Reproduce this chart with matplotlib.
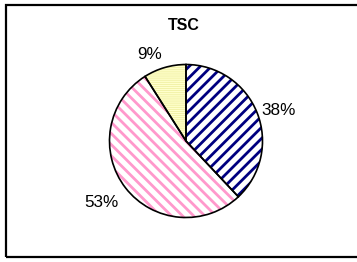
import numpy as np
import matplotlib
matplotlib.use("Agg")
import matplotlib.pyplot as plt
from matplotlib.patches import Rectangle

title = "TSC"
labels = ["38%", "53%", "9%"]
values = [38, 53, 9]
face_colors = ["#FFFFFF", "#FFFFFF", "#FFFFCC"]
hatch_colors = ["#000080", "#FF99CC", "#EDED9A"]
hatches = ["///", "\\\\\\", "--------"]
hatch_lw = [2.0, 2.0, 0.5]
label_dist = [1.28, 1.375, 1.22]
label_dang = [-3.2, -1.7, 6.6]

plt.rcParams['font.family'] = ['Liberation Sans', 'DejaVu Sans']
plt.rcParams['hatch.linewidth'] = 2.0

W, H = 357, 262
fig = plt.figure(figsize=(W / 100, H / 100), dpi=100)

# frame
fig.patches.append(Rectangle((6 / W, 5 / H), 1.0, (257 - 5) / H, transform=fig.transFigure,
                             fill=False, edgecolor="black", linewidth=1.6, figure=fig))

cx, cy, r = 186, 141, 76.5
ax = fig.add_axes([(cx - r) / W, (H - cy - r) / H, 2 * r / W, 2 * r / H])

wedges, _ = ax.pie(values, startangle=90, counterclock=False, radius=1,
                   wedgeprops=dict(linewidth=0))
for w, fc, hc, h, hl in zip(wedges, face_colors, hatch_colors, hatches, hatch_lw):
    w.set_facecolor(fc)
    w.set_edgecolor(hc)
    w.set_hatch(h)
    w.set_linewidth(0)
    if hasattr(w, 'set_hatch_linewidth'):
        w.set_hatch_linewidth(hl)
    else:
        w._hatch_linewidth = hl

outline, _ = ax.pie(values, startangle=90, counterclock=False, radius=1,
                    wedgeprops=dict(fill=False, edgecolor="black", linewidth=1.2))

ax.set_xlim(-1, 1)
ax.set_ylim(-1, 1)
ax.axis('off')

for w, lab, d, da in zip(wedges, labels, label_dist, label_dang):
    ang = np.deg2rad((w.theta1 + w.theta2) / 2 + da)
    ax.text(d * np.cos(ang), d * np.sin(ang), lab, ha='center', va='center',
            fontsize=12.3, color='black', clip_on=False)

fig.text(183.5 / W, 1 - 25.5 / H, title, ha='center', va='center', fontsize=11.5,
         fontweight='bold')

fig.savefig("out.png", dpi=100)
